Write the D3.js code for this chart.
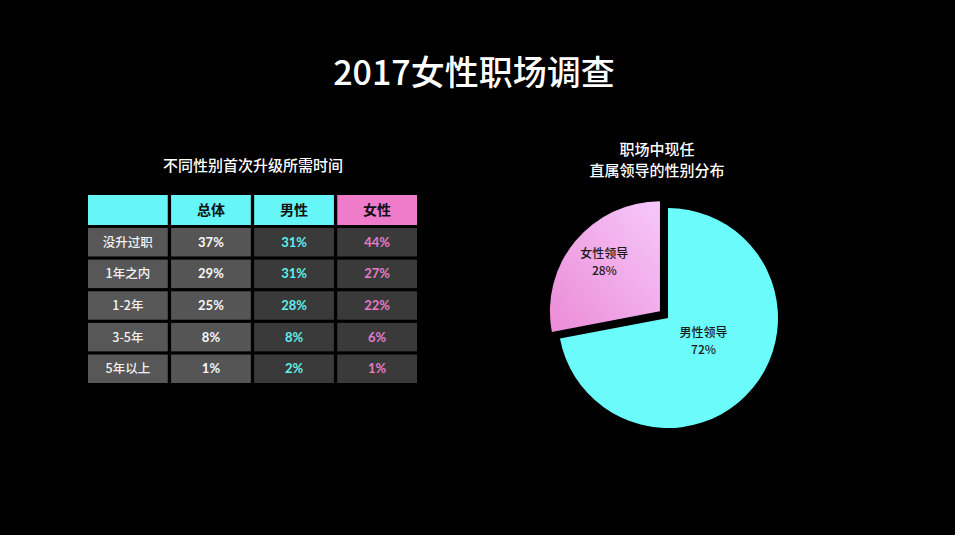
<!DOCTYPE html>
<html><head><meta charset="utf-8">
<script src="https://cdn.jsdelivr.net/npm/d3@7/dist/d3.min.js"></script>
<style>
html,body{margin:0;padding:0;background:#000;}
svg{display:block;}
</style></head>
<body>
<svg id="c" width="955" height="535"></svg>
<script>
const title = "2017女性职场调查";
const tableTitle = "不同性别首次升级所需时间";
const pieTitle = ["职场中现任", "直属领导的性别分布"];
const columns = ["", "总体", "男性", "女性"];
const rowLabels = ["没升过职", "1年之内", "1-2年", "3-5年", "5年以上"];
const totalVals = [37, 29, 25, 8, 1];
const maleVals = [31, 31, 28, 8, 2];
const femaleVals = [44, 27, 22, 6, 1];
const pieLabels = ["男性领导", "女性领导"];
const pieVals = [72, 28];

const svg = d3.select("#c");
const cjk = "'Noto Sans CJK SC','Noto Sans',sans-serif";
const numFont = "'Lato','Noto Sans CJK SC',sans-serif";

svg.append("text").attr("x", 474).attr("y", 85).attr("text-anchor", "middle")
  .attr("fill", "#fff").attr("font-family", cjk).attr("font-size", 34).attr("font-weight", 500).text(title);

// ---- table
svg.append("text").attr("x", 253).attr("y", 171).attr("text-anchor", "middle")
  .attr("fill", "#fff").attr("font-family", cjk).attr("font-size", 15).attr("font-weight", 500).text(tableTitle);

const x = d3.scaleBand().domain(d3.range(4)).range([88, 417]).paddingInner(0.04);
const y = d3.scaleBand().domain(d3.range(5)).range([228, 383]).paddingInner(0.1);
const headTop = 195, headH = 30;
const headFill = ["#66f6f8", "#66f6f8", "#66f6f8", "#ee7ccb"];
const g = svg.append("g");
g.selectAll("rect.h").data(columns).join("rect").attr("class", "h")
  .attr("x", (d, i) => x(i)).attr("y", headTop).attr("width", x.bandwidth()).attr("height", headH)
  .attr("fill", (d, i) => headFill[i]);
g.selectAll("text.h").data(columns).join("text").attr("class", "h")
  .attr("x", (d, i) => x(i) + x.bandwidth() / 2).attr("y", headTop + headH / 2 + 5)
  .attr("text-anchor", "middle").attr("font-family", cjk).attr("font-size", 14).attr("font-weight", 700)
  .attr("fill", "#111").text(d => d);

const cols = [rowLabels, totalVals.map(v => v + "%"), maleVals.map(v => v + "%"), femaleVals.map(v => v + "%")];
const cellFill = ["#575757", "#555555", "#3a3a3a", "#3a3a3a"];
const textFill = ["#f2f2f2", "#f8f8f8", "#5ff0ee", "#e77cc7"];
cols.forEach((col, ci) => {
  const cg = g.append("g");
  cg.selectAll("rect").data(col).join("rect")
    .attr("x", x(ci)).attr("y", (d, ri) => y(ri)).attr("width", x.bandwidth()).attr("height", y.bandwidth())
    .attr("fill", cellFill[ci]);
  cg.selectAll("text").data(col).join("text")
    .attr("x", x(ci) + x.bandwidth() / 2).attr("y", (d, ri) => y(ri) + y.bandwidth() / 2 + 4.5)
    .attr("text-anchor", "middle").attr("font-family", ci === 0 ? cjk : numFont)
    .attr("font-size", ci === 0 ? 12.5 : 13).attr("font-weight", ci === 0 ? 500 : 700)
    .attr("fill", textFill[ci]).text(d => d);
});

// ---- pie
svg.append("g").selectAll("text").data(pieTitle).join("text")
  .attr("x", 657).attr("y", (d, i) => 155 + i * 21).attr("text-anchor", "middle")
  .attr("fill", "#fff").attr("font-family", cjk).attr("font-size", 15).attr("font-weight", 500).text(d => d);

const defs = svg.append("defs");
const grad = defs.append("linearGradient").attr("id", "fg").attr("x1", "100%").attr("y1", "0%").attr("x2", "0%").attr("y2", "100%");
grad.append("stop").attr("offset", "0%").attr("stop-color", "#f6c8fa");
grad.append("stop").attr("offset", "100%").attr("stop-color", "#eb8bd6");

const cx = 668, cy = 318, r = 110, explode = 10.5;
const pie = d3.pie().sort(null).value(d => d)(pieVals);
const arc = d3.arc().innerRadius(0).outerRadius(r);
const fills = ["#6cfbfb", "url(#fg)"];
const labelShift = [0, -3];
const pg = svg.append("g").attr("transform", `translate(${cx},${cy})`);
pie.forEach((p, i) => {
  const mid = (p.startAngle + p.endAngle) / 2;
  const off = i === 1 ? explode : 0;
  const dx = Math.sin(mid) * off, dy = -Math.cos(mid) * off;
  const sg = pg.append("g").attr("transform", `translate(${dx},${dy})`);
  sg.append("path").attr("d", arc(p)).attr("fill", fills[i]);
  const lr = i === 0 ? 0.42 : 0.62;
  const c = d3.arc().innerRadius(r * lr).outerRadius(r * lr).centroid(p);
  const lab = sg.append("text").attr("text-anchor", "middle").attr("font-family", cjk)
    .attr("font-size", 12).attr("font-weight", 500).attr("fill", "#1a1a1a");
  lab.append("tspan").attr("x", c[0] + labelShift[i]).attr("y", c[1] - 10).text(pieLabels[i]);
  lab.append("tspan").attr("x", c[0] + labelShift[i]).attr("y", c[1] + 7).text(pieVals[i] + "%");
});
</script>
</body></html>
